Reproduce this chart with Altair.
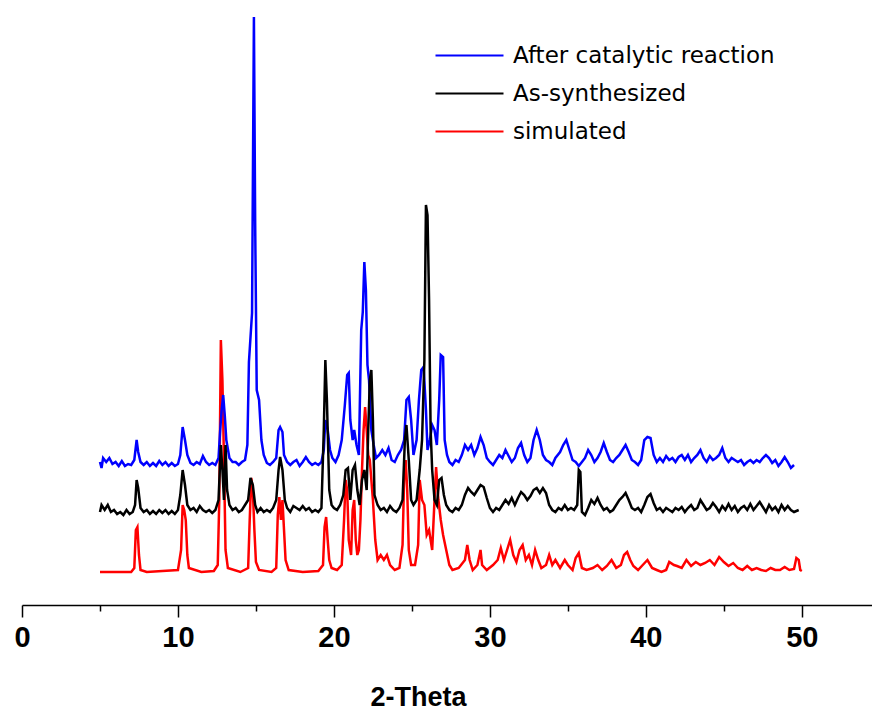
import altair as alt
import pandas as pd

# 2-Theta (deg), intensity (arbitrary units, curves offset vertically as in the figure)
after_catalytic = [
    (5.0,143),(5.1,137),(5.2,147),(5.4,143),(5.6,147),(5.8,141),(6.0,143),(6.2,139),(6.4,144),(6.6,139),
    (6.8,141),(7.0,140),(7.2,145),(7.35,165),(7.45,153),(7.6,143),(7.8,140),(8.0,143),(8.2,139),(8.4,142),
    (8.6,139),(8.8,144),(9.0,140),(9.2,143),(9.4,139),(9.6,142),(9.8,139),(10.0,141),(10.15,150),(10.3,178),
    (10.45,165),(10.6,150),(10.8,142),(11.0,140),(11.2,143),(11.4,141),(11.6,149),(11.8,143),(12.0,140),(12.2,142),
    (12.4,140),(12.6,147),(12.7,173),(12.8,195),(12.9,210),(13.0,190),(13.1,165),(13.3,147),(13.5,143),(13.7,143),
    (13.9,140),(14.1,143),(14.3,145),(14.45,160),(14.55,243),(14.75,292),(14.87,588),(14.95,382),(15.05,215),(15.2,205),
    (15.35,165),(15.5,150),(15.7,142),(15.9,140),(16.1,143),(16.3,147),(16.45,175),(16.55,178),(16.7,173),(16.8,150),
    (17.0,143),(17.2,140),(17.4,143),(17.6,145),(17.8,139),(18.0,143),(18.2,148),(18.4,143),(18.6,140),(18.8,142),
    (19.0,140),(19.2,143),(19.35,155),(19.45,185),(19.6,175),(19.75,155),(19.9,147),(20.1,143),(20.3,150),(20.5,165),
    (20.7,200),(20.85,230),(20.95,232),(21.05,185),(21.2,165),(21.3,175),(21.45,160),(21.6,150),(21.75,275),(21.85,293),
    (21.95,343),(22.05,315),(22.15,240),(22.25,225),(22.4,175),(22.55,160),(22.7,147),(22.9,150),(23.1,155),(23.3,150),
    (23.5,157),(23.7,145),(23.9,143),(24.1,150),(24.3,155),(24.5,165),(24.65,205),(24.8,208),(24.95,185),(25.1,150),
    (25.3,165),(25.45,205),(25.6,235),(25.75,238),(25.9,195),(26.0,155),(26.15,165),(26.3,180),(26.45,175),(26.6,160),
    (26.75,205),(26.85,250),(27.0,248),(27.1,165),(27.25,150),(27.4,143),(27.6,140),(27.8,145),(28.0,143),(28.2,150),
    (28.4,160),(28.6,155),(28.8,160),(29.0,150),(29.2,157),(29.4,168),(29.6,160),(29.8,147),(30.0,143),(30.2,140),
    (30.4,145),(30.6,150),(30.8,147),(31.0,155),(31.2,149),(31.4,143),(31.6,147),(31.8,157),(32.0,162),(32.2,150),
    (32.4,143),(32.6,147),(32.8,165),(33.0,175),(33.2,165),(33.4,150),(33.6,145),(33.8,143),(34.0,140),(34.2,147),
    (34.5,153),(34.7,160),(34.9,165),(35.1,155),(35.3,145),(35.5,143),(35.7,139),(35.9,143),(36.1,147),(36.3,155),
    (36.5,150),(36.7,143),(36.9,147),(37.1,153),(37.3,162),(37.5,153),(37.7,145),(37.9,143),(38.1,147),(38.3,150),
    (38.5,155),(38.7,160),(38.9,153),(39.1,145),(39.3,143),(39.5,140),(39.7,145),(39.9,165),(40.1,168),(40.3,167),
    (40.5,150),(40.7,143),(40.9,147),(41.1,143),(41.3,149),(41.5,145),(41.7,147),(41.9,143),(42.1,148),(42.3,150),
    (42.5,145),(42.7,150),(42.9,143),(43.1,147),(43.3,150),(43.5,155),(43.7,147),(43.9,143),(44.1,149),(44.3,145),
    (44.5,147),(44.7,150),(44.9,157),(45.1,147),(45.3,143),(45.5,147),(45.7,145),(45.9,143),(46.1,145),(46.3,140),
    (46.5,143),(46.7,145),(46.9,142),(47.1,145),(47.3,143),(47.5,147),(47.7,150),(47.9,147),(48.1,142),(48.3,145),
    (48.5,139),(48.7,143),(48.9,148),(49.1,143),(49.3,137),(49.5,140),
]

as_synthesized = [
    (5.0,93),(5.1,100),(5.3,95),(5.5,100),(5.7,93),(5.9,95),(6.1,91),(6.3,93),(6.5,90),(6.7,95),
    (6.9,91),(7.1,93),(7.25,100),(7.35,125),(7.45,117),(7.6,97),(7.8,93),(8.0,95),(8.2,91),(8.4,94),
    (8.6,91),(8.8,95),(9.0,92),(9.2,95),(9.4,91),(9.6,94),(9.8,91),(10.0,95),(10.15,110),(10.3,135),
    (10.45,120),(10.6,100),(10.8,95),(11.0,97),(11.2,93),(11.4,99),(11.6,95),(11.8,93),(12.0,95),(12.2,92),
    (12.4,95),(12.6,105),(12.75,160),(12.85,135),(12.95,105),(13.05,160),(13.15,115),(13.3,100),(13.5,95),(13.7,97),
    (13.9,93),(14.1,95),(14.3,100),(14.5,105),(14.65,127),(14.8,120),(14.95,100),(15.1,93),(15.3,97),(15.5,93),
    (15.7,95),(15.9,93),(16.1,97),(16.3,105),(16.45,135),(16.55,148),(16.7,135),(16.85,105),(17.0,97),(17.2,93),
    (17.4,99),(17.6,97),(17.8,95),(18.0,99),(18.2,95),(18.4,97),(18.6,93),(18.8,95),(19.0,93),(19.2,97),
    (19.35,175),(19.45,245),(19.55,205),(19.7,115),(19.85,100),(20.0,97),(20.2,95),(20.4,100),(20.6,110),(20.75,135),
    (20.9,137),(21.05,105),(21.2,135),(21.35,140),(21.5,115),(21.65,100),(21.8,125),(21.95,135),(22.1,115),(22.2,175),
    (22.3,225),(22.4,235),(22.5,185),(22.6,110),(22.8,100),(23.0,95),(23.2,97),(23.4,93),(23.6,99),(23.8,95),
    (24.0,93),(24.2,97),(24.4,105),(24.55,165),(24.65,180),(24.8,145),(24.95,105),(25.1,100),(25.3,105),(25.5,135),
    (25.65,165),(25.8,245),(25.9,400),(26.0,390),(26.1,305),(26.2,175),(26.3,135),(26.45,105),(26.6,100),(26.75,125),
    (26.9,127),(27.05,110),(27.2,100),(27.4,95),(27.6,93),(27.8,97),(28.0,95),(28.2,100),(28.4,110),(28.6,117),
    (28.8,113),(29.0,110),(29.2,115),(29.4,120),(29.6,118),(29.8,107),(30.0,97),(30.2,93),(30.4,97),(30.6,95),
    (30.8,100),(31.0,105),(31.2,101),(31.4,107),(31.6,100),(31.8,107),(32.0,113),(32.2,110),(32.4,105),(32.6,109),
    (32.8,115),(33.0,117),(33.2,112),(33.4,117),(33.6,112),(33.8,100),(34.0,95),(34.2,93),(34.4,97),(34.6,95),
    (34.8,100),(35.0,95),(35.2,97),(35.4,95),(35.6,100),(35.7,135),(35.8,133),(35.9,93),(36.1,90),(36.3,97),
    (36.5,105),(36.7,101),(36.9,107),(37.1,100),(37.3,95),(37.5,97),(37.7,93),(37.9,95),(38.1,100),(38.3,105),
    (38.5,108),(38.7,112),(38.9,105),(39.1,97),(39.3,95),(39.5,97),(39.7,93),(39.9,100),(40.1,108),(40.3,111),
    (40.5,102),(40.7,95),(40.9,97),(41.1,93),(41.3,97),(41.5,95),(41.7,93),(41.9,97),(42.1,95),(42.3,98),
    (42.5,93),(42.7,97),(42.9,100),(43.1,95),(43.3,97),(43.5,105),(43.7,100),(43.9,95),(44.1,97),(44.3,102),
    (44.5,98),(44.7,93),(44.9,99),(45.1,95),(45.3,101),(45.5,95),(45.7,99),(45.9,93),(46.1,97),(46.3,99),
    (46.5,95),(46.7,101),(46.9,95),(47.1,99),(47.3,103),(47.5,98),(47.7,93),(47.9,100),(48.1,95),(48.3,98),
    (48.5,93),(48.7,100),(48.9,95),(49.1,99),(49.3,95),(49.5,93),(49.8,95),
]

simulated = [
    (5.0,33),(6.0,33),(7.0,33),(7.2,37),(7.3,75),(7.4,78),(7.5,50),(7.6,35),(8.0,33),(9.0,34),
    (10.0,35),(10.2,55),(10.3,100),(10.4,95),(10.5,85),(10.6,50),(10.7,37),(11.5,33),(12.3,34),(12.55,40),
    (12.65,105),(12.75,265),(12.85,225),(12.95,145),(13.05,55),(13.2,37),(14.0,33),(14.5,37),(14.6,85),(14.7,127),
    (14.8,115),(14.9,75),(15.0,43),(15.2,35),(16.0,33),(16.3,37),(16.4,90),(16.5,108),(16.6,85),(16.7,105),
    (16.8,75),(16.9,45),(17.1,35),(18.0,33),(19.0,34),(19.3,40),(19.4,78),(19.5,88),(19.6,65),(19.7,45),
    (19.85,37),(20.2,35),(20.5,40),(20.65,85),(20.75,125),(20.85,115),(20.95,65),(21.1,50),(21.2,95),(21.3,105),
    (21.4,65),(21.5,50),(21.6,55),(21.7,85),(21.8,135),(21.9,175),(22.0,198),(22.1,175),(22.2,150),(22.3,145),
    (22.4,125),(22.5,105),(22.65,65),(22.8,45),(23.0,50),(23.2,45),(23.4,50),(23.6,40),(23.9,35),(24.2,37),
    (24.4,60),(24.5,125),(24.6,145),(24.7,115),(24.8,55),(24.95,40),(25.2,40),(25.4,60),(25.5,125),(25.65,105),
    (25.8,100),(25.95,70),(26.1,75),(26.3,55),(26.45,105),(26.55,138),(26.7,105),(26.85,85),(27.0,70),(27.2,55),
    (27.4,40),(27.6,35),(28.0,37),(28.4,45),(28.55,60),(28.7,45),(28.9,35),(29.2,40),(29.4,55),(29.5,40),
    (29.8,35),(30.2,40),(30.5,45),(30.7,57),(30.9,45),(31.1,55),(31.3,65),(31.5,50),(31.7,43),(31.9,55),
    (32.1,60),(32.3,45),(32.5,50),(32.7,40),(32.9,55),(33.1,45),(33.3,37),(33.6,40),(33.8,50),(34.0,40),
    (34.2,45),(34.5,37),(34.8,45),(35.0,40),(35.3,35),(35.5,47),(35.7,52),(35.9,37),(36.2,35),(36.6,37),
    (36.9,40),(37.2,35),(37.5,39),(37.8,45),(38.1,37),(38.4,40),(38.6,50),(38.8,53),(39.0,45),(39.2,39),
    (39.5,35),(39.8,40),(40.1,45),(40.4,37),(40.7,35),(41.0,33),(41.3,35),(41.5,43),(41.8,40),(42.0,39),
    (42.3,37),(42.6,45),(42.9,39),(43.2,43),(43.5,40),(43.8,42),(44.1,45),(44.4,40),(44.7,48),(45.0,43),
    (45.3,39),(45.6,42),(45.9,37),(46.2,35),(46.5,39),(46.8,35),(47.1,37),(47.4,35),(47.7,34),(48.0,37),
    (48.3,35),(48.6,35),(48.9,38),(49.2,35),(49.5,36),(49.65,47),(49.8,45),(49.9,35),(50.0,34),
]

series_names = ["After catalytic reaction", "As-synthesized", "simulated"]
series_colors = ["#0000FF", "#000000", "#FF0000"]
x_ticks = [0, 5, 10, 15, 20, 25, 30, 35, 40, 45, 50]

rows = []
for name, pts in [("simulated", simulated), ("After catalytic reaction", after_catalytic),
                  ("As-synthesized", as_synthesized)]:
    for t, v in pts:
        rows.append({"theta": t, "intensity": v, "series": name})
df = pd.DataFrame(rows)

AXIS_FONT = "Liberation Sans, Arial, sans-serif"

x_enc = alt.X("theta:Q", scale=alt.Scale(domain=[0, 54.5], nice=False, zero=False),
              axis=alt.Axis(title="2-Theta", values=x_ticks, grid=False,
                            tickSize={"condition": {"test": "datum.value % 10 === 0", "value": 12}, "value": 6},
                            labelExpr="datum.value % 10 === 0 ? datum.label : ''",
                            labelFont=AXIS_FONT, labelFontWeight="bold", labelFontSize=29,
                            labelColor="black", labelPadding=6, labelFlush=False,
                            titleFont=AXIS_FONT, titleFontWeight="bold", titleFontSize=27,
                            titleColor="black", titleX=396, titleY=100, titleBaseline="alphabetic",
                            titleAlign="center",
                            domainColor="black", domainWidth=1.5, tickColor="black", tickWidth=1.5))
y_enc = alt.Y("intensity:Q", scale=alt.Scale(domain=[0, 595], nice=False), axis=None)
color_enc = alt.Color("series:N",
                      scale=alt.Scale(domain=series_names, range=series_colors),
                      legend=alt.Legend(title=None, orient="none", legendX=436, legendY=34,
                                        symbolType="M-4,0L4,0", symbolSize=289, symbolStrokeWidth=2,
                                        labelFont="DejaVu Sans", labelFontSize=23, labelColor="black",
                                        labelOffset=32, labelLimit=500, rowPadding=14, padding=0))

layers = []
for name in ["simulated", "After catalytic reaction", "As-synthesized"]:
    layers.append(
        alt.Chart(df).transform_filter(alt.datum.series == name)
        .mark_line(strokeWidth=2.5, interpolate="linear")
        .encode(x=x_enc, y=y_enc, color=color_enc)
    )

chart = alt.layer(*layers).properties(
    width=850, height=595,
    autosize=alt.AutoSizeParams(type="none"),
    padding={"left": 14, "top": 2, "right": 0, "bottom": 108},
).configure_view(stroke=None)

chart.save("out.html", embed_options={"renderer": "svg", "actions": False})
